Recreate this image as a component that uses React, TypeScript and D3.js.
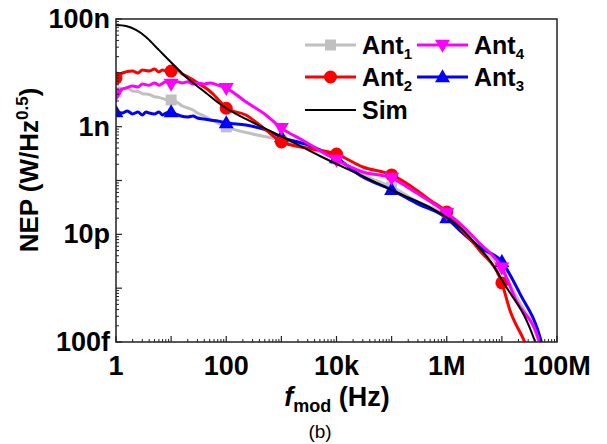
import React from "react";
import * as d3 from "d3";

const W = 607;
const H = 444;
const PLOT = { left: 116, right: 557, top: 19, bottom: 342 };

// Axis ticks
const xTickValues = [1, 1e2, 1e4, 1e6, 1e8];
const xTickLabels = ["1", "100", "10k", "1M", "100M"];
const yTickValues = [1e-13, 1e-11, 1e-9, 1e-7];
const yTickLabels = ["100f", "10p", "1n", "100n"];

// Ant1 (grey, squares)
const ant1Freq = [1, 1.3, 1.6, 2, 2.5, 3, 4, 5, 6, 8, 10, 13, 16, 20, 25, 30, 40, 50, 70, 100, 300, 1e3, 3e3, 1e4, 3e4, 1e5, 3e5, 1e6, 1.7e6, 3.9e6, 1e7, 2e7, 4.6e7, 5.3e7];
const ant1Nep = [4.4e-9, 5.0e-9, 5.3e-9, 4.6e-9, 4.5e-9, 4.1e-9, 3.95e-9, 3.6e-9, 3.5e-9, 3.2e-9, 3.13e-9, 2.8e-9, 2.42e-9, 2.22e-9, 2.04e-9, 1.79e-9, 1.58e-9, 1.39e-9, 1.17e-9, 9.9e-10, 7.3e-10, 5.65e-10, 4.0e-10, 2.5e-10, 1.27e-10, 7.6e-11, 4.0e-11, 2.2e-11, 1.31e-11, 5.8e-12, 2.2e-12, 6.0e-13, 1e-13, 5.5e-14];

// Ant2 (red, circles)
const ant2Freq = [1, 1.2, 1.5, 2, 2.5, 3, 4, 5, 6, 7, 8, 10, 13, 16, 20, 25, 30, 40, 50, 60, 70, 85, 100, 226, 522, 1e3, 2.9e3, 1e4, 3e4, 1e5, 2.8e5, 5e5, 1e6, 1.7e6, 3.9e6, 1e7, 1.4e7, 2.6e7, 3.4e7];
const ant2Nep = [8.0e-9, 9.5e-9, 1.04e-8, 1.08e-8, 9.9e-9, 1.13e-8, 1.08e-8, 1.18e-8, 1.04e-8, 1.13e-8, 1.08e-8, 1.08e-8, 1.13e-8, 9.5e-9, 8.4e-9, 7.4e-9, 6.5e-9, 5.45e-9, 4.6e-9, 3.87e-9, 3.26e-9, 2.64e-9, 2.2e-9, 1.65e-9, 8.7e-10, 5.2e-10, 4.0e-10, 3.1e-10, 1.78e-10, 1.27e-10, 6.7e-11, 4.3e-11, 2.6e-11, 1.37e-11, 5.1e-12, 1.25e-12, 3.9e-13, 1e-13, 5e-14];

// Ant3 (blue, up triangles)
const ant3Freq = [1, 1.3, 1.6, 2, 2.5, 3, 3.5, 4, 5, 6, 7, 8, 10, 12, 15, 20, 25, 30, 40, 50, 70, 100, 226, 522, 1e3, 3e3, 1e4, 3e4, 1e5, 2.8e5, 1e6, 1.7e6, 3.9e6, 1e7, 2.1e7, 5.2e7, 6e7];
const ant3Nep = [1.87e-9, 1.79e-9, 1.95e-9, 1.72e-9, 1.87e-9, 1.65e-9, 1.87e-9, 1.79e-9, 1.72e-9, 1.87e-9, 1.65e-9, 1.79e-9, 1.87e-9, 1.72e-9, 1.58e-9, 1.51e-9, 1.58e-9, 1.45e-9, 1.39e-9, 1.33e-9, 1.27e-9, 1.17e-9, 1.07e-9, 8.7e-10, 6.4e-10, 4.6e-10, 2.6e-10, 1.16e-10, 6.7e-11, 3.8e-11, 2.0e-11, 1.2e-11, 5.8e-12, 3.1e-12, 8.1e-13, 1e-13, 5.5e-14];

// Ant4 (magenta, down triangles)
const ant4Freq = [1, 1.2, 1.5, 2, 2.5, 3, 4, 5, 6, 8, 10, 13, 16, 20, 25, 30, 40, 50, 70, 100, 226, 522, 1e3, 2.4e3, 1e4, 3e4, 1e5, 2.8e5, 1e6, 1.7e6, 3.9e6, 1e7, 1.8e7, 4.8e7, 5.6e7];
const ant4Nep = [4.0e-9, 4.8e-9, 5.2e-9, 5.7e-9, 5.45e-9, 6.2e-9, 5.9e-9, 6.5e-9, 5.9e-9, 6.8e-9, 6.2e-9, 6.8e-9, 6.5e-9, 6.8e-9, 6.2e-9, 6.5e-9, 6.2e-9, 6.48e-9, 5.94e-9, 5.2e-9, 2.9e-9, 1.65e-9, 9.4e-10, 5.65e-10, 2.4e-10, 1.44e-10, 1.11e-10, 5.9e-11, 2.5e-11, 1.62e-11, 6.9e-12, 2.4e-12, 6.0e-13, 1e-13, 5.5e-14];

// Simulation (black)
const simFreq = [1, 1.52, 2.3, 3.5, 5.3, 8, 12.2, 18.5, 28, 43, 65, 98, 150, 226, 344, 522, 1420, 5e3, 3e4, 1.2e5, 4.9e5, 1.7e6, 2.9e6, 6e6, 1.2e7, 2.4e7, 3.9e7, 4.6e7];
const simNep = [7.74e-8, 7.41e-8, 6.25e-8, 4.63e-8, 3.02e-8, 1.97e-8, 1.28e-8, 8.37e-9, 5.94e-9, 4.22e-9, 3.0e-9, 2.22e-9, 1.72e-9, 1.39e-9, 1.12e-9, 9.1e-10, 5.5e-10, 2.85e-10, 1.2e-10, 6.1e-11, 3.2e-11, 1.37e-11, 7.8e-12, 3.3e-12, 1.05e-12, 3.45e-13, 1.09e-13, 6e-14];

type Shape = "square" | "circle" | "up" | "down" | "none";

const FONT = "Arial, 'Liberation Sans', Helvetica, sans-serif";

function markerPath(shape: Shape, cx: number, cy: number): string {
  if (shape === "square") {
    const s = 5.5;
    return `M${cx - s},${cy - s}H${cx + s}V${cy + s}H${cx - s}Z`;
  }
  if (shape === "up") {
    const w = 7.5, h = 13;
    return `M${cx},${cy - h * 0.6}L${cx + w},${cy + h * 0.4}L${cx - w},${cy + h * 0.4}Z`;
  }
  if (shape === "down") {
    const w = 7.5, h = 13;
    return `M${cx},${cy + h * 0.6}L${cx + w},${cy - h * 0.4}L${cx - w},${cy - h * 0.4}Z`;
  }
  if (shape === "circle") {
    const r = 6.5;
    return `M${cx - r},${cy}A${r},${r} 0 1,0 ${cx + r},${cy}A${r},${r} 0 1,0 ${cx - r},${cy}Z`;
  }
  return "";
}

export default function App() {
  const x = d3.scaleLog().domain([1, 1e8]).range([PLOT.left, PLOT.right]);
  const y = d3.scaleLog().domain([1e-13, 1e-7]).range([PLOT.bottom, PLOT.top]);

  const series = [
    { name: "ant1", freq: ant1Freq, nep: ant1Nep, color: "#c0c0c0", shape: "square" as Shape, width: 3 },
    { name: "ant3", freq: ant3Freq, nep: ant3Nep, color: "#0000ff", shape: "up" as Shape, width: 3 },
    { name: "ant2", freq: ant2Freq, nep: ant2Nep, color: "#ff0000", shape: "circle" as Shape, width: 3 },
    { name: "ant4", freq: ant4Freq, nep: ant4Nep, color: "#ff00ff", shape: "down" as Shape, width: 3 },
    { name: "sim", freq: simFreq, nep: simNep, color: "#000000", shape: "none" as Shape, width: 2 },
  ];

  const measuredLine = d3
    .line<[number, number]>()
    .x((d) => x(d[0]))
    .y((d) => y(d[1]))
    .curve(d3.curveMonotoneX);

  const simLine = d3
    .line<[number, number]>()
    .x((d) => x(d[0]))
    .y((d) => y(d[1]))
    .curve(d3.curveCatmullRom.alpha(0.5));

  const isDecade = (f: number) => {
    const l = Math.log10(f);
    return Math.abs(l - Math.round(l)) < 1e-9;
  };

  // minor + major ticks
  const xMinor: number[] = [];
  for (let e = 0; e < 8; e++) for (let k = 2; k <= 9; k++) xMinor.push(k * Math.pow(10, e));
  const xMajor = d3.range(0, 9).map((e) => Math.pow(10, e));
  const yMinor: number[] = [];
  for (let e = -13; e < -7; e++) for (let k = 2; k <= 9; k++) yMinor.push(k * Math.pow(10, e));
  const yMajor = d3.range(-13, -6).map((e) => Math.pow(10, e));

  const axisColor = "#222";

  const legend = [
    { label: "Ant", sub: "1", color: "#c0c0c0", shape: "square" as Shape, lx: 305, ly: 45 },
    { label: "Ant", sub: "4", color: "#ff00ff", shape: "down" as Shape, lx: 417, ly: 45 },
    { label: "Ant", sub: "2", color: "#ff0000", shape: "circle" as Shape, lx: 305, ly: 77 },
    { label: "Ant", sub: "3", color: "#0000ff", shape: "up" as Shape, lx: 417, ly: 77 },
    { label: "Sim", sub: "", color: "#000000", shape: "none" as Shape, lx: 305, ly: 110 },
  ];

  return (
    <svg
      width={W}
      height={H}
      viewBox={`0 0 ${W} ${H}`}
      style={{ position: "absolute", left: 0, top: 0, background: "#fff" }}
      fontFamily={FONT}
    >
      <defs>
        <clipPath id="plotClip">
          <rect x={PLOT.left} y={PLOT.top} width={PLOT.right - PLOT.left} height={PLOT.bottom - PLOT.top} />
        </clipPath>
      </defs>

      <g clipPath="url(#plotClip)">
        {series.map((s) => {
          const pts = s.freq.map((f, i) => [f, s.nep[i]] as [number, number]);
          const gen = s.shape === "none" ? simLine : measuredLine;
          return (
            <g key={s.name}>
              <path d={gen(pts) || ""} fill="none" stroke={s.color} strokeWidth={s.width} strokeLinejoin="round" />
              {s.shape !== "none" &&
                pts
                  .filter((p) => isDecade(p[0]) && p[0] <= 1e7)
                  .map((p, i) => (
                    <path key={i} d={markerPath(s.shape, x(p[0]), y(p[1]))} fill={s.color} />
                  ))}
            </g>
          );
        })}
      </g>

      {/* frame */}
      <rect
        x={PLOT.left}
        y={PLOT.top}
        width={PLOT.right - PLOT.left}
        height={PLOT.bottom - PLOT.top}
        fill="none"
        stroke={axisColor}
        strokeWidth={1.5}
      />

      {/* x ticks */}
      {xMajor.map((v) => (
        <line key={"xM" + v} x1={x(v)} x2={x(v)} y1={PLOT.bottom} y2={PLOT.bottom - 6} stroke={axisColor} strokeWidth={1.2} />
      ))}
      {xMinor.map((v) => (
        <line key={"xm" + v} x1={x(v)} x2={x(v)} y1={PLOT.bottom} y2={PLOT.bottom - 3} stroke={axisColor} strokeWidth={1} />
      ))}
      {/* y ticks */}
      {yMajor.map((v) => (
        <line key={"yM" + v} x1={PLOT.left} x2={PLOT.left + 6} y1={y(v)} y2={y(v)} stroke={axisColor} strokeWidth={1.2} />
      ))}
      {yMinor.map((v) => (
        <line key={"ym" + v} x1={PLOT.left} x2={PLOT.left + 3} y1={y(v)} y2={y(v)} stroke={axisColor} strokeWidth={1} />
      ))}

      {/* tick labels */}
      {xTickValues.map((v, i) => (
        <text key={"xl" + i} x={x(v)} y={375} textAnchor="middle" fontSize={27} fontWeight="bold">
          {xTickLabels[i]}
        </text>
      ))}
      {yTickValues.map((v, i) => (
        <text key={"yl" + i} x={110} y={y(v) + 9} textAnchor="end" fontSize={27} fontWeight="bold">
          {yTickLabels[i]}
        </text>
      ))}

      {/* axis titles */}
      <text x={337} y={406} textAnchor="middle" fontSize={27} fontWeight="bold">
        <tspan fontStyle="italic">f</tspan>
        <tspan fontSize={18} dy={6}>mod</tspan>
        <tspan dy={-6}> (Hz)</tspan>
      </text>
      <text x={320} y={438} textAnchor="middle" fontSize={19}>
        (b)
      </text>
      <text
        transform={`translate(38,${170}) rotate(-90)`}
        textAnchor="middle"
        fontSize={26}
        fontWeight="bold"
      >
        <tspan>NEP (W/Hz</tspan>
        <tspan fontSize={17} dy={-10}>0.5</tspan>
        <tspan dy={10}>)</tspan>
      </text>

      {/* legend */}
      {legend.map((l, i) => (
        <g key={"lg" + i}>
          <line x1={l.lx} x2={l.lx + 51} y1={l.ly} y2={l.ly} stroke={l.color} strokeWidth={l.shape === "none" ? 2 : 3} />
          {l.shape !== "none" && <path d={markerPath(l.shape, l.lx + 25.5, l.ly)} fill={l.color} />}
          <text x={l.lx + 57} y={l.ly + 9} fontSize={25} fontWeight="bold">
            {l.label}
            {l.sub && (
              <tspan fontSize={15} dy={5}>
                {l.sub}
              </tspan>
            )}
          </text>
        </g>
      ))}
    </svg>
  );
}
